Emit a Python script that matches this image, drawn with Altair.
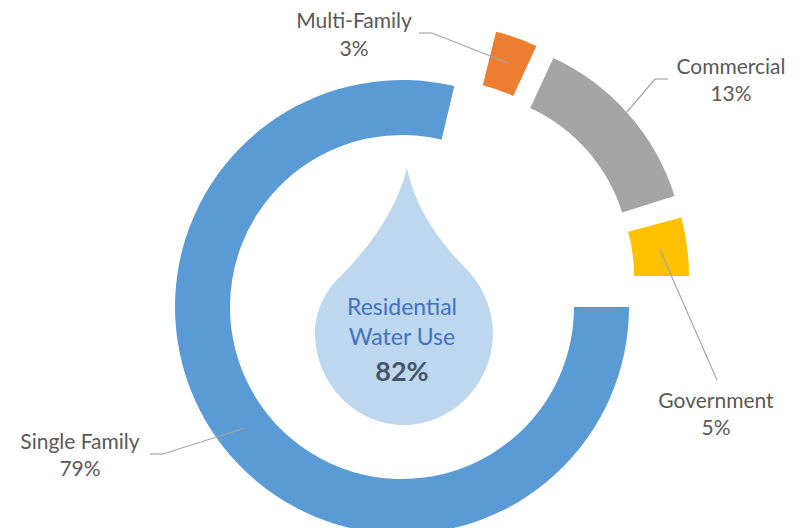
import altair as alt
import pandas as pd

categories = ["Single Family", "Multi-Family", "Commercial", "Government"]
shares = [78.7, 3.2, 13.25, 4.85]
labels = ["79%", "3%", "13%", "5%"]
colors = ["#5B9BD5", "#ED7D31", "#A5A5A5", "#FFC000"]

M = 8  # page margin
slice_centers = [(402, 307), (441, 252), (458, 264), (462, 276)]
slice_trim = [0, 0.2, 0, 0.7]  # small white gap at the slice's leading edge
label_pos = [(80, 442.5), (354, 22), (731, 67.5), (716, 401.5)]
leaders = [
    [(150, 454), (163, 454), (245, 428)],
    [(419, 33), (432, 33), (508, 63)],
    [(668, 79), (655, 79), (627, 112)],
    [(660, 250), (717, 380)],
]
FONT = "Lato"
TXT = "#595959"
LINE = "#A6A6A6"
DROP = ("M 3 -129 C 12 -85 40 -50 66 -24 C 80 -8 89 14 89 36 C 89 86 49 128 0 128 "
        "C -49 128 -89 86 -89 36 C -89 14 -78 -8 -64 -20 C -35 -50 -8 -85 3 -129 Z")

layers = []
start = 0.0
for name, s, col, (cx, cy), trim in zip(categories, shares, colors, slice_centers, slice_trim):
    df = pd.DataFrame({"category": [name], "start": [start + trim], "end": [start + s]})
    layers.append(
        alt.Chart(df).mark_arc(radius=227, radius2=172, fill=col, stroke=None,
                               x=cx - M, y=cy - M).encode(
            theta=alt.Theta("start:Q", scale=alt.Scale(domain=[0, 100], range=[1.5708, 7.854])),
            theta2="end:Q",
        )
    )
    start += s

# drop
layers.append(
    alt.Chart(pd.DataFrame({"k": ["drop"]})).mark_point(
        shape=DROP, size=4, filled=True, fill="#BDD7EE", opacity=1, stroke=None,
        x=404 - M, y=297 - M).encode(detail="k:N")
)

# leader lines
for pts in leaders:
    for (x1, y1), (x2, y2) in zip(pts, pts[1:]):
        layers.append(
            alt.Chart(pd.DataFrame({"k": [0]})).mark_rule(color=LINE, strokeWidth=1.2).encode(
                x=alt.value(x1 - M), x2=alt.value(x2 - M),
                y=alt.value(y1 - M), y2=alt.value(y2 - M))
        )


def text(lines, x, y, size=21, color=TXT, weight="normal", dy=27.5):
    out = []
    for i, t in enumerate(lines):
        out.append(
            alt.Chart(pd.DataFrame({"t": [t]})).mark_text(
                font=FONT, fontSize=size, color=color, fontWeight=weight,
                align="center", baseline="middle",
                x=x - M, y=y + i * dy - M).encode(text="t:N")
        )
    return out


for name, lab, (x, y) in zip(categories, labels, label_pos):
    layers += text([name, lab], x, y)

layers += text(["Residential", "Water Use"], 402, 307.5, size=23, color="#4472C4", dy=30)
layers += text(["82%"], 402, 372.5, size=27, color="#44546A", weight="bold")

chart = alt.layer(*layers).properties(
    width=787, height=520, padding=0, autosize=alt.AutoSizeParams(type="none")
).configure_view(stroke=None)

chart.save("out.html", embed_options={"renderer": "svg", "actions": False})
